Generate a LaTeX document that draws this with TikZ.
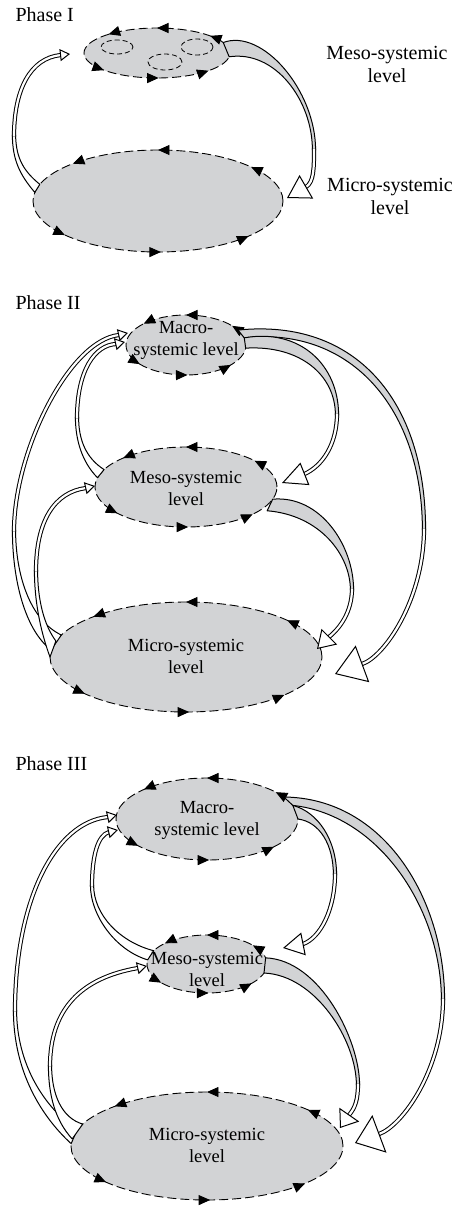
\documentclass[tikz,border=0pt]{standalone}
\usepackage{fontspec}
\setmainfont{Liberation Serif}
\usepackage{xcolor}
\usepackage{tikz}
\usetikzlibrary{positioning, arrows.meta, shapes.geometric, decorations.markings}

\definecolor{levelgray}{RGB}{210,211,213}
\newcommand{\cycletip}{\arrow{Triangle[length=11.5pt,width=10pt]}}

\begin{document}
\begin{tikzpicture}[x=1pt, y=1pt]
            % Define styles for the levels and the flows
            \tikzstyle{levelshape} = [ellipse, draw, fill=levelgray, line width=0.9pt, dash pattern=on 9pt off 4pt,
                inner sep=0pt, outer sep=0pt, postaction={decorate},
                decoration={markings, mark=at position 0.085 with {\cycletip}, mark=at position 0.25 with {\cycletip},
                  mark=at position 0.40 with {\cycletip}, mark=at position 0.585 with {\cycletip},
                  mark=at position 0.755 with {\cycletip}, mark=at position 0.91 with {\cycletip}}]
            \tikzstyle{cellshape} = [ellipse, draw, line width=0.8pt, dash pattern=on 5pt off 3pt, inner sep=0pt]
            \tikzstyle{leveltext} = [align=center, font=\fontsize{18.5}{22}\selectfont]
            \tikzstyle{sidetext} = [align=center, font=\fontsize{20}{23}\selectfont]
            \tikzstyle{phasetext} = [anchor=base west, font=\fontsize{20}{24}\selectfont]
            \tikzstyle{grayband} = [draw, fill=levelgray, line width=1pt, line join=round]
            \tikzstyle{whiteband} = [draw, fill=white, line width=1pt, line join=round]
            \tikzstyle{thinband} = [draw, line width=1pt, double=white, double distance=2.2pt]
            \tikzstyle{headsmall} = [line width=1pt, -{Triangle[length=10pt, width=12pt, fill=white]}]
            \tikzstyle{headline} = [line width=1pt]

            \useasboundingbox (0,0) rectangle (463,-1207);

            % Phase I
            \node [phasetext] (phaseI) at (12,-22) {Phase I};
            \node [levelshape, minimum width=146pt, minimum height=50pt] (mesoI) at (157,-53) {};
            \node [cellshape, minimum width=32pt, minimum height=14pt] (cellA) at (117,-47) {};
            \node [cellshape, minimum width=32pt, minimum height=16pt] (cellB) at (197,-47) {};
            \node [cellshape, minimum width=34pt, minimum height=16pt] (cellC) at (165,-62) {};
            \node [levelshape, minimum width=250pt, minimum height=102pt] (microI) at (158,-201) {};
            \node [sidetext] (mesoIlabel) at (387,-64) {Meso-systemic\\level};
            \node [sidetext] (microIlabel) at (390,-196) {Micro-systemic\\level};

            % Phase II
            \node [phasetext] (phaseII) at (12,-309) {Phase II};
            \node [levelshape, minimum width=120pt, minimum height=60pt] (macroII) at (186,-345) {};
            \node [levelshape, minimum width=182pt, minimum height=80pt] (mesoII) at (186,-487) {};
            \node [levelshape, minimum width=272pt, minimum height=110pt] (microII) at (186,-657) {};

            % Phase III
            \node [phasetext] (phaseIII) at (12,-770) {Phase III};
            \node [levelshape, minimum width=182pt, minimum height=82pt] (macroIII) at (207,-819) {};
            \node [levelshape, minimum width=120pt, minimum height=58pt] (mesoIII) at (207,-964) {};
            \node [levelshape, minimum width=272pt, minimum height=108pt] (microIII) at (207,-1146) {};

            % Ends of the flows
            \coordinate (bA1) at (61,-55);    \coordinate (tipA1) at (70,-54);
            \coordinate (bA2) at (306,-187);  \coordinate (tipA2) at (287,-198);
            \coordinate (bB1) at (119,-335);  \coordinate (tipB1) at (128,-333);
            \coordinate (bB2) at (116,-344);  \coordinate (tipB2) at (125,-342);
            \coordinate (bB3) at (86,-488);   \coordinate (tipB3) at (95,-486);
            \coordinate (bB4) at (304.5,-474); \coordinate (tipB4) at (282,-483);
            \coordinate (bB5) at (362,-664);  \coordinate (tipB5) at (335,-674);
            \coordinate (bB6) at (329,-637);  \coordinate (tipB6) at (317,-649);
            \coordinate (bC1) at (108,-817);  \coordinate (tipC1) at (117,-815);
            \coordinate (bC2) at (109,-832);  \coordinate (tipC2) at (118,-830);
            \coordinate (bC3) at (138,-968);  \coordinate (tipC3) at (147,-966);
            \coordinate (bC4) at (303,-944);  \coordinate (tipC4) at (283,-948);
            \coordinate (bC5) at (379,-1134); \coordinate (tipC5) at (355,-1143);
            \coordinate (bC6) at (349,-1115); \coordinate (tipC6) at (340,-1128);

            % Phase I flows
            \filldraw [whiteband] (microI.176) .. controls (20,-175) and (12.4,-160) .. (12.4,-135) -- (15.6,-135) .. controls (16,-160) and (25,-172) .. (microI.172) -- cycle;
            \draw [thinband] (14,-136.5) .. controls (14,-90) and (30,-58) .. (bA1);
            \draw [headsmall] (bA1) -- (tipA1);
            \filldraw [grayband] (mesoI.9) .. controls (262,-28) and (315.6,-90) .. (315.6,-150) -- (312.4,-150) .. controls (312.4,-100) and (275,-50) .. (mesoI.-3) -- cycle;
            \draw [thinband] (314,-148.5) .. controls (314,-168) and (314,-182) .. (bA2);
            \draw [headline, -{Triangle[length=22.4pt, width=27pt, fill=white]}] (bA2) -- (tipA2);

            % Phase II flows
            \filldraw [grayband] (macroII.16) .. controls (355,-318) and (425.6,-400) .. (425.6,-530) -- (422.4,-530) .. controls (422.4,-410) and (352,-326) .. (macroII.7) -- cycle;
            \draw [thinband] (424,-528.5) .. controls (424,-600) and (384,-657) .. (bB5);
            \draw [headline, -{Triangle[length=29.3pt, width=39pt, fill=white]}] (bB5) -- (tipB5);
            \filldraw [grayband] (macroII.7) .. controls (300,-328) and (338.6,-365) .. (338.6,-415) -- (335.4,-415) .. controls (335.4,-375) and (300,-345) .. (macroII.-3) -- cycle;
            \draw [thinband] (337,-413.5) .. controls (337,-445) and (322,-466) .. (bB4);
            \draw [headline, -{Triangle[length=24.7pt, width=24pt, fill=white]}] (bB4) -- (tipB4);
            \filldraw [grayband] (mesoII.-8) .. controls (320,-495) and (353.6,-545) .. (353.6,-590) -- (350.4,-590) .. controls (350.4,-555) and (320,-515) .. ([xshift=8pt]mesoII.-18) -- cycle;
            \draw [thinband] (352,-588.5) .. controls (352,-612) and (340,-628) .. (bB6);
            \draw [headline, -{Triangle[length=17.5pt, width=22pt, fill=white]}] (bB6) -- (tipB6);
            \filldraw [whiteband] (microII.177) .. controls (25,-630) and (12.4,-580) .. (12.4,-530) -- (15.6,-530) .. controls (15.6,-575) and (30,-620) .. (microII.170) -- cycle;
            \draw [thinband] (14,-531.5) .. controls (14,-450) and (70,-340) .. (bB1);
            \draw [headsmall] (bB1) -- (tipB1);
            \filldraw [whiteband] (microII.180) .. controls (40,-630) and (34.4,-600) .. (34.4,-570) -- (37.6,-570) .. controls (37.6,-600) and (44,-625) .. (microII.173) -- cycle;
            \draw [thinband] (36,-571.5) .. controls (36,-520) and (55,-492) .. (bB3);
            \draw [headsmall] (bB3) -- (tipB3);
            \filldraw [whiteband] (mesoII.174) .. controls (82,-462) and (75.4,-440) .. (75.4,-417) -- (78.6,-417) .. controls (78.6,-440) and (86,-458) .. (mesoII.168) -- cycle;
            \draw [thinband] (77,-418.5) .. controls (77,-370) and (95,-345) .. (bB2);
            \draw [headsmall] (bB2) -- (tipB2);

            % Phase III flows
            \filldraw [grayband] (macroIII.16) .. controls (385,-798) and (444.6,-900) .. (444.6,-1000) -- (441.4,-1000) .. controls (441.4,-910) and (380,-815) .. (macroIII.9) -- cycle;
            \draw [thinband] (443,-998.5) .. controls (443,-1070) and (402,-1126) .. (bC5);
            \draw [headline, -{Triangle[length=26.1pt, width=40pt, fill=white]}] (bC5) -- (tipC5);
            \filldraw [grayband] (macroIII.9) .. controls (318,-812) and (336.6,-840) .. (336.6,-875) -- (333.4,-875) .. controls (333.4,-845) and (320,-822) .. (macroIII.0) -- cycle;
            \draw [thinband] (335,-873.5) .. controls (335,-910) and (320,-938) .. (bC4);
            \draw [headline, -{Triangle[length=20.9pt, width=23pt, fill=white]}] (bC4) -- (tipC4);
            \filldraw [grayband] (mesoIII.6) .. controls (320,-960) and (359.6,-1040) .. (359.6,-1085) -- (356.4,-1085) .. controls (356.4,-1040) and (315,-975) .. (mesoIII.-9) -- cycle;
            \draw [thinband] (358,-1083.5) .. controls (358,-1100) and (355,-1108) .. (bC6);
            \draw [headline, -{Triangle[length=16.3pt, width=24pt, fill=white]}] (bC6) -- (tipC6);
            \filldraw [whiteband] (microIII.179) .. controls (40,-1115) and (13.4,-1070) .. (13.4,-1010) -- (16.6,-1010) .. controls (16.6,-1065) and (45,-1108) .. (microIII.173) -- cycle;
            \draw [thinband] (15,-1011.5) .. controls (15,-900) and (55,-822) .. (bC1);
            \draw [headsmall] (bC1) -- (tipC1);
            \filldraw [whiteband] (microIII.177) .. controls (55,-1120) and (48.4,-1095) .. (48.4,-1065) -- (51.6,-1065) .. controls (51.6,-1095) and (62,-1118) .. (microIII.170) -- cycle;
            \draw [thinband] (50,-1066.5) .. controls (50,-1010) and (80,-978) .. (bC3);
            \draw [headsmall] (bC3) -- (tipC3);
            \filldraw [whiteband] (mesoIII.176) .. controls (115,-950) and (90.4,-915) .. (90.4,-885) -- (93.6,-885) .. controls (93.6,-915) and (120,-942) .. (mesoIII.166) -- cycle;
            \draw [thinband] (92,-886.5) .. controls (92,-855) and (98,-835) .. (bC2);
            \draw [headsmall] (bC2) -- (tipC2);

            % Labels inside the levels
            \node [leveltext] (macroIItext) at (186,-340) {Macro-\\systemic level};
            \node [leveltext] (mesoIItext) at (186,-488) {Meso-systemic\\level};
            \node [leveltext] (microIItext) at (186,-656) {Micro-systemic\\level};
            \node [leveltext] (macroIIItext) at (207,-820) {Macro-\\systemic level};
            \node [leveltext] (mesoIIItext) at (207,-969) {Meso-systemic\\level};
            \node [leveltext] (microIIItext) at (207,-1145) {Micro-systemic\\level};
\end{tikzpicture}
\end{document}
